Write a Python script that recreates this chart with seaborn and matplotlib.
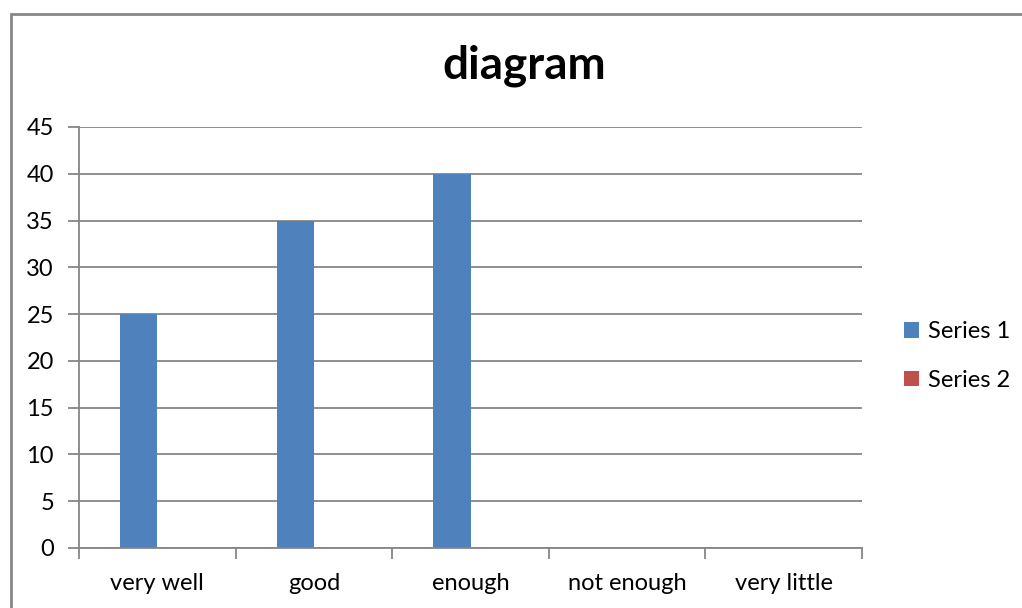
import matplotlib
matplotlib.use("Agg")
import matplotlib.pyplot as plt
from matplotlib.patches import Rectangle
from matplotlib.ticker import FixedLocator, NullFormatter
import seaborn as sns
import pandas as pd

categories = ["very well", "good", "enough", "not enough", "very little"]
series_names = ["Series 1", "Series 2"]
series1 = [25, 35, 40, 0, 0]
series2 = [0, 0, 0, 0, 0]
y_ticks = [0, 5, 10, 15, 20, 25, 30, 35, 40, 45]

colors = ["#4F81BD", "#C0504D"]
grid_gray = "#868686"

df = pd.DataFrame({
    "category": categories * 2,
    "value": series1 + series2,
    "series": [series_names[0]] * len(categories) + [series_names[1]] * len(categories),
})

sns.set_theme(style="white")
plt.rcParams["font.family"] = ["Lato", "DejaVu Sans"]
plt.rcParams["text.color"] = "black"

label_size = 17

fig = plt.figure(figsize=(10.22, 6.08), dpi=100)
ax = fig.add_axes([79 / 1022, 1 - 548 / 608, (862 - 79) / 1022, (548 - 127) / 608])

sns.barplot(data=df, x="category", y="value", hue="series", order=categories,
            hue_order=series_names, palette=colors, width=0.474, saturation=1,
            edgecolor="none", ax=ax, legend=True)

ax.set_xlim(-0.5, len(categories) - 0.5)
ax.set_ylim(0, 45)
ax.set_yticks(y_ticks)
ax.set_xlabel("")
ax.set_ylabel("")

# horizontal gridlines behind the bars
ax.set_axisbelow(True)
ax.yaxis.grid(True, color=grid_gray, linewidth=1.3)
ax.xaxis.grid(False)

for side in ["top", "right"]:
    ax.spines[side].set_visible(False)
for side in ["left", "bottom"]:
    ax.spines[side].set_color(grid_gray)
    ax.spines[side].set_linewidth(1.3)

# category boundary ticks on x, labels centred in each slot
ax.xaxis.set_minor_locator(FixedLocator([i - 0.5 for i in range(len(categories) + 1)]))
ax.xaxis.set_minor_formatter(NullFormatter())
ax.tick_params(axis="x", which="major", length=0, pad=18, labelsize=label_size,
               labelcolor="black")
ax.tick_params(axis="x", which="minor", length=8, width=1.3, color=grid_gray, direction="out",
               bottom=True)
ax.tick_params(axis="y", which="major", length=8, width=1.3, color=grid_gray, direction="out",
               left=True, pad=10, labelsize=label_size, labelcolor="black")

handles, labels = ax.get_legend_handles_labels()
ax.legend_.remove()
fig.legend(handles, labels, loc="center left", bbox_to_anchor=(904 / 1022, 1 - 356 / 608),
           frameon=False, fontsize=label_size, handlelength=0.62, handleheight=0.62,
           handletextpad=0.4, labelspacing=1.15, borderaxespad=0, borderpad=0)

fig.text(524 / 1022, 1 - 66 / 608, "diagram", ha="center", va="center",
         fontsize=33, fontweight="bold", color="black")

# outer chart-area border (runs off the right and bottom edges)
fig.patches.append(Rectangle((10.5 / 1022, -0.1), 1.2, (1 - 14.5 / 608) + 0.1,
                             transform=fig.transFigure, fill=False,
                             edgecolor=grid_gray, linewidth=2))

fig.savefig("out.png", dpi=100)
